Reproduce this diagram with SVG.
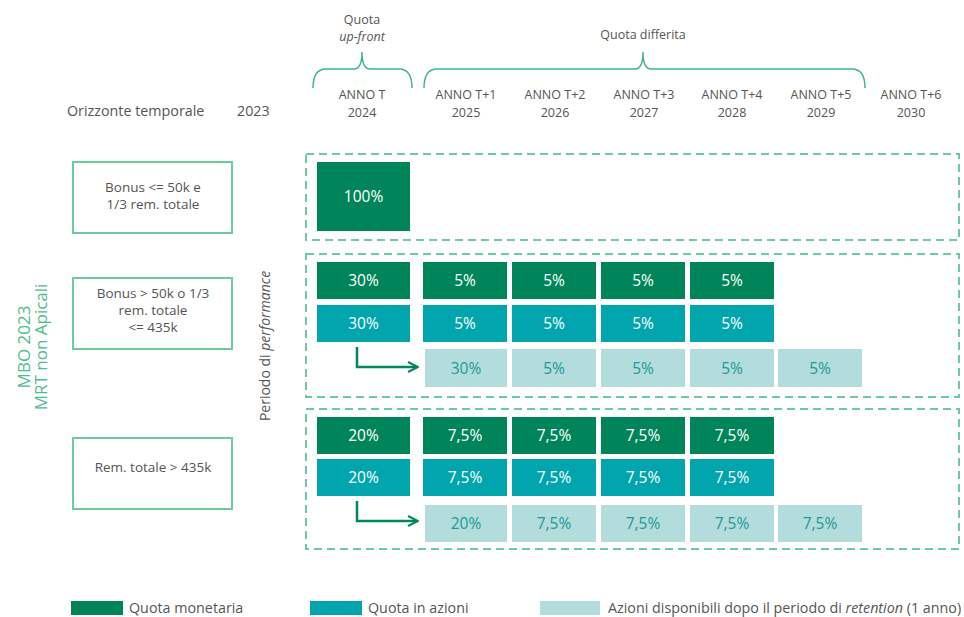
<svg xmlns="http://www.w3.org/2000/svg" width="964" height="617" viewBox="0 0 964 617">
<style>
text{font-family:"Open Sans","Liberation Sans",sans-serif;}
.lbl{fill:#555;font-size:14.3px;}
.hdr{fill:#555;font-size:12.5px;text-anchor:middle;}
.node{fill:#fff;stroke:#6ccb9f;stroke-width:2;}
.grp{fill:none;stroke:#6ccb9f;stroke-width:2;stroke-dasharray:8 5;}
.m{fill:#00855a;}
.a{fill:#00a5ae;}
.r{fill:#b3dcdc;}
.w{fill:#fff;font-size:15.5px;text-anchor:middle;}
.t{fill:#1a9a97;font-size:15.5px;text-anchor:middle;}
.brace{fill:none;stroke:#3fb58a;stroke-width:1.5;}
.arr{fill:none;stroke:#00875a;stroke-width:2.5;}
.ntext{fill:#555;font-size:13.5px;text-anchor:middle;}
</style>
<defs>
<marker id="chev" viewBox="0 0 10 10" refX="9" refY="5" markerWidth="5" markerHeight="5" orient="auto" markerUnits="strokeWidth">
<path d="M1,1 L9,5 L1,9" fill="none" stroke="#00875a" stroke-width="1.6"/>
</marker>
</defs>

<g id="header">
<text class="hdr" x="362" y="24" font-size="14">Quota</text>
<text class="hdr" x="362" y="41" font-size="14" font-style="italic">up-front</text>
<text class="hdr" x="643" y="39" font-size="14">Quota differita</text>
<path class="brace" d="M313,88 Q313,69 326,69 L354,69 Q362,69 362,52 Q362,69 370,69 L399,69 Q412,69 412,88"/>
<path class="brace" d="M424,88 Q424,69 437,69 L635,69 Q643,69 643,52 Q643,69 651,69 L852,69 Q865,69 865,88"/>
<text class="lbl" x="67" y="116">Orizzonte temporale</text>
<text class="lbl" x="237" y="116">2023</text>
<text class="hdr" x="362" y="99">ANNO T</text><text class="hdr" x="362" y="117">2024</text>
<text class="hdr" x="466" y="99">ANNO T+1</text><text class="hdr" x="466" y="117">2025</text>
<text class="hdr" x="555" y="99">ANNO T+2</text><text class="hdr" x="555" y="117">2026</text>
<text class="hdr" x="644" y="99">ANNO T+3</text><text class="hdr" x="644" y="117">2027</text>
<text class="hdr" x="732" y="99">ANNO T+4</text><text class="hdr" x="732" y="117">2028</text>
<text class="hdr" x="821" y="99">ANNO T+5</text><text class="hdr" x="821" y="117">2029</text>
<text class="hdr" x="911" y="99">ANNO T+6</text><text class="hdr" x="911" y="117">2030</text>
</g>

<g id="side-labels">
<text transform="translate(30,347) rotate(-90)" text-anchor="middle" fill="#4dbd8f" font-size="17">MBO 2023</text>
<text transform="translate(47,347) rotate(-90)" text-anchor="middle" fill="#4dbd8f" font-size="17">MRT non Apicali</text>
<text transform="translate(270,346) rotate(-90)" text-anchor="middle" fill="#555" font-size="14">Periodo di <tspan font-style="italic">performance</tspan></text>
</g>

<g id="node-bonus-low">
<rect class="node" x="73" y="162" width="159" height="71"/>
<text class="ntext" x="153" y="192">Bonus &lt;= 50k e</text>
<text class="ntext" x="153" y="209">1/3 rem. totale</text>
</g>
<g id="node-bonus-mid">
<rect class="node" x="73" y="278" width="159" height="71"/>
<text class="ntext" x="153" y="298">Bonus &gt; 50k o 1/3</text>
<text class="ntext" x="153" y="315">rem. totale</text>
<text class="ntext" x="153" y="332">&lt;= 435k</text>
</g>
<g id="node-bonus-high">
<rect class="node" x="73" y="438" width="159" height="71"/>
<text class="ntext" x="153" y="472">Rem. totale &gt; 435k</text>
</g>

<g id="group-1">
<rect class="grp" x="306" y="154" width="653" height="86"/>
<rect class="m" x="317" y="162" width="93" height="69"/>
<text class="w" x="363.5" y="202">100%</text>
</g>

<g id="group-2">
<rect class="grp" x="306" y="254" width="653" height="143"/>
<rect class="m" x="317" y="262" width="93" height="37"/><text class="w" x="363.5" y="286">30%</text>
<rect class="m" x="423" y="262" width="84" height="37"/><text class="w" x="465" y="286">5%</text>
<rect class="m" x="512" y="262" width="84" height="37"/><text class="w" x="554" y="286">5%</text>
<rect class="m" x="601" y="262" width="84" height="37"/><text class="w" x="643" y="286">5%</text>
<rect class="m" x="690" y="262" width="84" height="37"/><text class="w" x="732" y="286">5%</text>
<rect class="a" x="317" y="305" width="93" height="37"/><text class="w" x="363.5" y="329">30%</text>
<rect class="a" x="423" y="305" width="84" height="37"/><text class="w" x="465" y="329">5%</text>
<rect class="a" x="512" y="305" width="84" height="37"/><text class="w" x="554" y="329">5%</text>
<rect class="a" x="601" y="305" width="84" height="37"/><text class="w" x="643" y="329">5%</text>
<rect class="a" x="690" y="305" width="84" height="37"/><text class="w" x="732" y="329">5%</text>
<rect class="r" x="425" y="349" width="82" height="38"/><text class="t" x="466" y="374">30%</text>
<rect class="r" x="512" y="349" width="84" height="38"/><text class="t" x="554" y="374">5%</text>
<rect class="r" x="601" y="349" width="84" height="38"/><text class="t" x="643" y="374">5%</text>
<rect class="r" x="690" y="349" width="84" height="38"/><text class="t" x="732" y="374">5%</text>
<rect class="r" x="778" y="349" width="84" height="38"/><text class="t" x="820" y="374">5%</text>
</g>

<g id="group-3">
<rect class="grp" x="306" y="409" width="653" height="140"/>
<rect class="m" x="317" y="417" width="93" height="37"/><text class="w" x="363.5" y="441">20%</text>
<rect class="m" x="423" y="417" width="84" height="37"/><text class="w" x="465" y="441">7,5%</text>
<rect class="m" x="512" y="417" width="84" height="37"/><text class="w" x="554" y="441">7,5%</text>
<rect class="m" x="601" y="417" width="84" height="37"/><text class="w" x="643" y="441">7,5%</text>
<rect class="m" x="690" y="417" width="84" height="37"/><text class="w" x="732" y="441">7,5%</text>
<rect class="a" x="317" y="459" width="93" height="37"/><text class="w" x="363.5" y="483">20%</text>
<rect class="a" x="423" y="459" width="84" height="37"/><text class="w" x="465" y="483">7,5%</text>
<rect class="a" x="512" y="459" width="84" height="37"/><text class="w" x="554" y="483">7,5%</text>
<rect class="a" x="601" y="459" width="84" height="37"/><text class="w" x="643" y="483">7,5%</text>
<rect class="a" x="690" y="459" width="84" height="37"/><text class="w" x="732" y="483">7,5%</text>
<rect class="r" x="425" y="505" width="82" height="37"/><text class="t" x="466" y="529">20%</text>
<rect class="r" x="512" y="505" width="84" height="37"/><text class="t" x="554" y="529">7,5%</text>
<rect class="r" x="601" y="505" width="84" height="37"/><text class="t" x="643" y="529">7,5%</text>
<rect class="r" x="690" y="505" width="84" height="37"/><text class="t" x="732" y="529">7,5%</text>
<rect class="r" x="778" y="505" width="84" height="37"/><text class="t" x="820" y="529">7,5%</text>
</g>

<g id="connectors">
<path class="arr" d="M357,347 L357,367 L418,367" marker-end="url(#chev)"/>
<path class="arr" d="M357,501 L357,521 L418,521" marker-end="url(#chev)"/>
</g>

<g id="legend">
<rect class="m" x="71" y="601" width="52" height="14"/>
<text class="lbl" x="129" y="613">Quota monetaria</text>
<rect class="a" x="310" y="601" width="52" height="14"/>
<text class="lbl" x="368" y="613">Quota in azioni</text>
<rect class="r" x="540" y="601" width="60" height="14"/>
<text class="lbl" x="608" y="613">Azioni disponibili dopo il periodo di <tspan font-style="italic">retention</tspan> (1 anno)</text>
</g>
</svg>
